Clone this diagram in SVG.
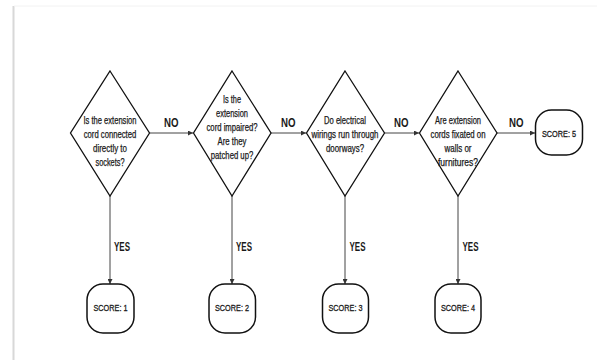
<svg xmlns="http://www.w3.org/2000/svg" width="597" height="360" viewBox="0 0 597 360">
<defs>
<marker id="arr" viewBox="0 0 10 10" refX="10" refY="5" markerWidth="5" markerHeight="5" orient="auto" markerUnits="userSpaceOnUse">
<path d="M0,0 L10,5 L0,10 z" fill="#333"/>
</marker>
<style>
.dia{fill:#fff;stroke:#111;stroke-width:1.3}
.box{fill:#fff;stroke:#111;stroke-width:1.5}
.q{font-family:"Liberation Sans",Arial,sans-serif;font-size:10px;fill:#1a1a1a;stroke:#1a1a1a;stroke-width:0.25;text-anchor:middle}
.s{font-family:"Liberation Sans",Arial,sans-serif;font-size:9.5px;fill:#1a1a1a;stroke:#1a1a1a;stroke-width:0.3;text-anchor:middle}
.lbl{font-family:"Liberation Sans",Arial,sans-serif;font-size:13.5px;font-weight:bold;fill:#1a1a1a}
.c{stroke:#444;stroke-width:1;fill:none}
</style>
</defs>
<rect x="0" y="0" width="597" height="360" fill="#fff"/>
<line x1="13.5" y1="6" x2="13.5" y2="360" stroke="#d8d8d8" stroke-width="2"/>
<line x1="14" y1="6" x2="597" y2="6" stroke="#f2f2f2" stroke-width="1"/>

<g id="connectors">
<line class="c" x1="149.5" y1="133" x2="193" y2="133" marker-end="url(#arr)"/>
<line class="c" x1="271" y1="133" x2="306" y2="133" marker-end="url(#arr)"/>
<line class="c" x1="384.5" y1="133" x2="419" y2="133" marker-end="url(#arr)"/>
<line class="c" x1="497" y1="133" x2="535" y2="133" marker-end="url(#arr)"/>
<line class="c" x1="110" y1="196" x2="110" y2="284" marker-end="url(#arr)"/>
<line class="c" x1="232" y1="196" x2="232" y2="284" marker-end="url(#arr)"/>
<line class="c" x1="345" y1="196" x2="345" y2="284" marker-end="url(#arr)"/>
<line class="c" x1="458" y1="196" x2="458" y2="284" marker-end="url(#arr)"/>
<text class="lbl" x="164" y="126.5" textLength="14.5" lengthAdjust="spacingAndGlyphs">NO</text>
<text class="lbl" x="281" y="126.5" textLength="14.5" lengthAdjust="spacingAndGlyphs">NO</text>
<text class="lbl" x="394" y="126.5" textLength="14.5" lengthAdjust="spacingAndGlyphs">NO</text>
<text class="lbl" x="509" y="126.5" textLength="14.5" lengthAdjust="spacingAndGlyphs">NO</text>
<text class="lbl" x="114" y="251" textLength="16" lengthAdjust="spacingAndGlyphs">YES</text>
<text class="lbl" x="236" y="251" textLength="16" lengthAdjust="spacingAndGlyphs">YES</text>
<text class="lbl" x="349.5" y="251" textLength="16" lengthAdjust="spacingAndGlyphs">YES</text>
<text class="lbl" x="462.5" y="251" textLength="16" lengthAdjust="spacingAndGlyphs">YES</text>
</g>

<g id="q1">
<polygon class="dia" points="110,71 149.5,133 110,196 70.5,133"/>
<text class="q" x="110" y="124.2" textLength="53" lengthAdjust="spacingAndGlyphs">Is the extension</text>
<text class="q" x="110" y="138" textLength="52.5" lengthAdjust="spacingAndGlyphs">cord connected</text>
<text class="q" x="110" y="151.8" textLength="34" lengthAdjust="spacingAndGlyphs">directly to</text>
<text class="q" x="110" y="165.6" textLength="29" lengthAdjust="spacingAndGlyphs">sockets?</text>
</g>
<g id="q2">
<polygon class="dia" points="232,71 271,133 232,196 193.5,133"/>
<text class="q" x="232" y="102.6" textLength="18" lengthAdjust="spacingAndGlyphs">Is the</text>
<text class="q" x="232" y="117" textLength="32" lengthAdjust="spacingAndGlyphs">extension</text>
<text class="q" x="232" y="131.3" textLength="51" lengthAdjust="spacingAndGlyphs">cord impaired?</text>
<text class="q" x="232" y="145" textLength="29" lengthAdjust="spacingAndGlyphs">Are they</text>
<text class="q" x="232" y="158.6" textLength="42.5" lengthAdjust="spacingAndGlyphs">patched up?</text>
</g>
<g id="q3">
<polygon class="dia" points="345,71 384.5,133 345,196 306.5,133"/>
<text class="q" x="345" y="123.6" textLength="42" lengthAdjust="spacingAndGlyphs">Do electrical</text>
<text class="q" x="345" y="137.6" textLength="67" lengthAdjust="spacingAndGlyphs">wirings run through</text>
<text class="q" x="345" y="151.6" textLength="38" lengthAdjust="spacingAndGlyphs">doorways?</text>
</g>
<g id="q4">
<polygon class="dia" points="458,71 497,133 458,196 419.5,133"/>
<text class="q" x="458" y="123.6" textLength="46" lengthAdjust="spacingAndGlyphs">Are extension</text>
<text class="q" x="458" y="137.6" textLength="55" lengthAdjust="spacingAndGlyphs">cords fixated on</text>
<text class="q" x="458" y="151.6" textLength="27" lengthAdjust="spacingAndGlyphs">walls or</text>
<text class="q" x="458" y="165.6" textLength="40" lengthAdjust="spacingAndGlyphs">furnitures?</text>
</g>

<g id="s1">
<rect class="box" x="87" y="284" width="47" height="49" rx="16" ry="16"/>
<text class="s" x="110.5" y="310.5" textLength="34" lengthAdjust="spacingAndGlyphs">SCORE: 1</text>
</g>
<g id="s2">
<rect class="box" x="209" y="284" width="46.5" height="49" rx="16" ry="16"/>
<text class="s" x="232" y="310.5" textLength="34" lengthAdjust="spacingAndGlyphs">SCORE: 2</text>
</g>
<g id="s3">
<rect class="box" x="322.5" y="284" width="46" height="49" rx="16" ry="16"/>
<text class="s" x="345.5" y="310.5" textLength="34" lengthAdjust="spacingAndGlyphs">SCORE: 3</text>
</g>
<g id="s4">
<rect class="box" x="435" y="284" width="46" height="49" rx="16" ry="16"/>
<text class="s" x="458" y="310.5" textLength="34" lengthAdjust="spacingAndGlyphs">SCORE: 4</text>
</g>
<g id="s5">
<rect class="box" x="535.5" y="110" width="47" height="45" rx="16" ry="16"/>
<text class="s" x="559" y="136.5" textLength="34" lengthAdjust="spacingAndGlyphs">SCORE: 5</text>
</g>
</svg>
